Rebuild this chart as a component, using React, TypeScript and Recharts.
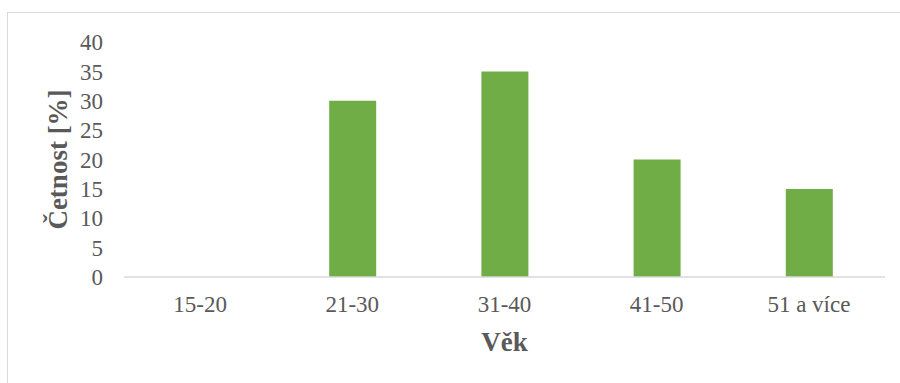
import { BarChart, Bar, XAxis, YAxis } from 'recharts'

const ageGroups = ['15-20', '21-30', '31-40', '41-50', '51 a více']
const frequency = [0, 30, 35, 20, 15]
const yTicks = [0, 5, 10, 15, 20, 25, 30, 35, 40]

const data = ageGroups.map((age, i) => ({ age, value: frequency[i] }))

const font = '"Liberation Serif", "Times New Roman", serif'
const textGray = '#595959'

export default function App() {
  return (
    <div style={{ position: 'absolute', top: 0, left: 0, width: 900, height: 383, background: '#fff', overflow: 'hidden' }}>
      {/* chart frame, only left and top edges visible */}
      <div
        style={{
          position: 'absolute',
          left: 7,
          top: 12,
          width: 920,
          height: 400,
          border: '1px solid #d9d9d9',
          boxSizing: 'border-box',
        }}
      />
      <BarChart
        width={900}
        height={383}
        data={data}
        margin={{ top: 42, right: 15, left: 0, bottom: 0 }}
        style={{ position: 'absolute', top: 0, left: 0 }}
      >
        <XAxis
          dataKey="age"
          height={106}
          axisLine={{ stroke: '#d9d9d9', strokeWidth: 1.5 }}
          tickLine={false}
          tickSize={0}
          tickMargin={19}
          tick={{ fill: textGray, fontSize: 23, fontFamily: font }}
          label={{
            value: 'Věk',
            position: 'insideBottom',
            offset: 32,
            fill: textGray,
            fontSize: 27,
            fontWeight: 'bold',
            fontFamily: font,
          }}
        />
        <YAxis
          width={124}
          domain={[0, 40]}
          ticks={yTicks}
          interval={0}
          axisLine={false}
          tickLine={false}
          tickSize={0}
          tickMargin={21}
          tick={{ fill: textGray, fontSize: 23, fontFamily: font }}
          label={{
            value: 'Četnost [%]',
            angle: -90,
            position: 'center',
            dx: -5,
            fill: textGray,
            fontSize: 27,
            fontWeight: 'bold',
            fontFamily: font,
          }}
        />
        <Bar dataKey="value" fill="#70ad47" barSize={47} isAnimationActive={false} />
      </BarChart>
    </div>
  )
}
